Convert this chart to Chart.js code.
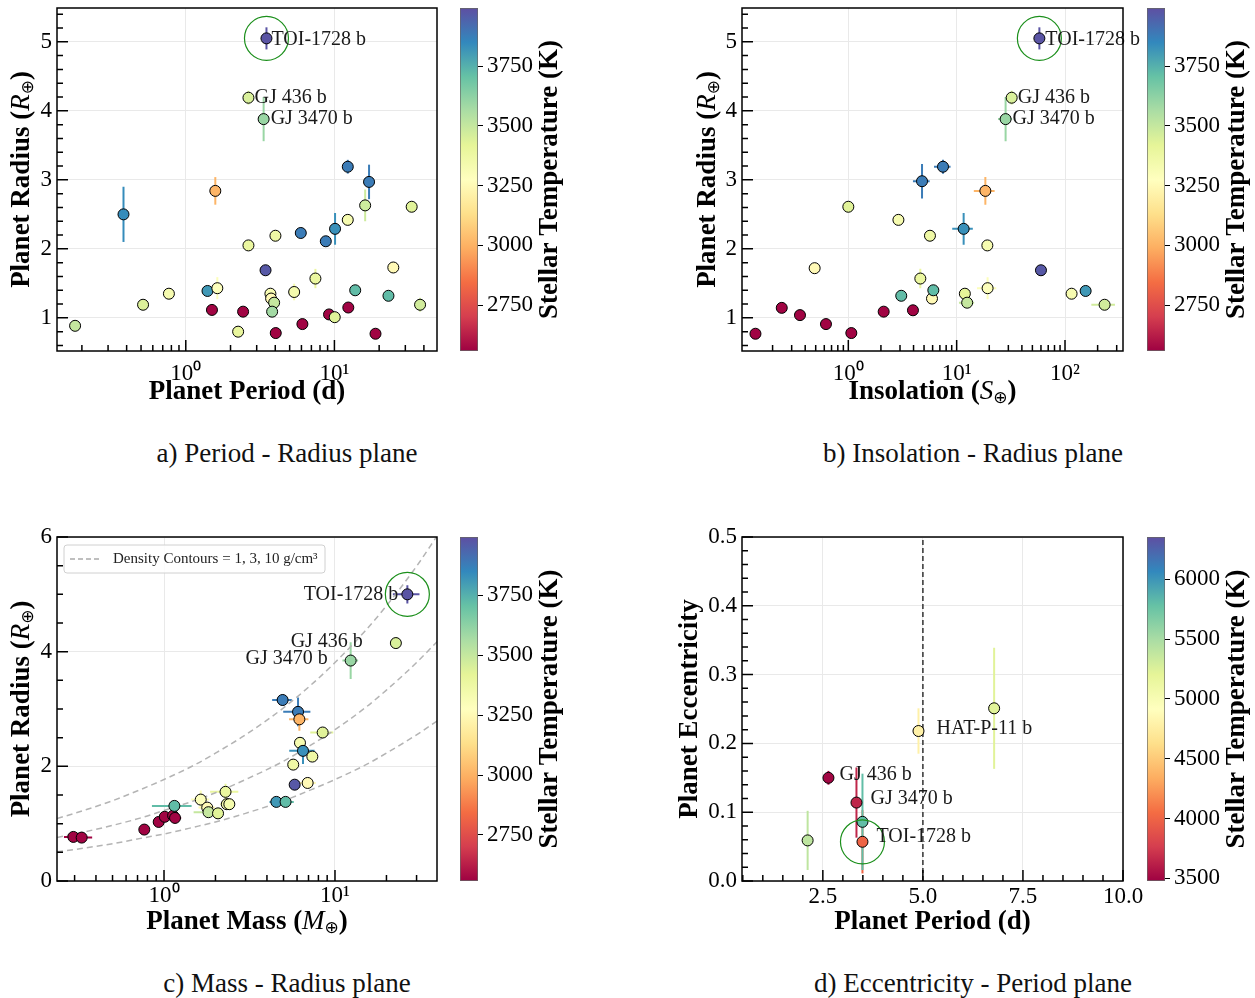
<!DOCTYPE html>
<html>
<head>
<meta charset="utf-8">
<script src="https://cdn.jsdelivr.net/npm/chart.js@4.4.1/dist/chart.umd.min.js"></script>
<style>
  body { margin: 0; background: #fff; width: 1255px; height: 998px; position: relative; overflow: hidden; }
  canvas { position: absolute; }
  .cap { position: absolute; font-family: "Liberation Serif", serif; font-size: 27px; text-align: center; line-height: 30px; color: #111; }
</style>
</head>
<body>
<canvas id="pa" width="445" height="420" style="left:0px;top:0px"></canvas>
<canvas id="ca" width="140" height="420" style="left:440px;top:0px"></canvas>
<canvas id="pb" width="508" height="420" style="left:640px;top:0px"></canvas>
<canvas id="cb" width="128" height="420" style="left:1127px;top:0px"></canvas>
<canvas id="pc" width="445" height="420" style="left:0px;top:520px"></canvas>
<canvas id="cc" width="140" height="420" style="left:440px;top:520px"></canvas>
<canvas id="pd" width="508" height="420" style="left:640px;top:520px"></canvas>
<canvas id="cd" width="128" height="420" style="left:1127px;top:520px"></canvas>
<div class="cap" style="left:0px;top:438px;width:574px">a) Period - Radius plane</div>
<div class="cap" style="left:700px;top:438px;width:546px">b) Insolation - Radius plane</div>
<div class="cap" style="left:0px;top:968px;width:574px">c) Mass - Radius plane</div>
<div class="cap" style="left:700px;top:968px;width:546px">d) Eccentricity - Period plane</div>
<script>
// ---- data (first entries of each panel are the labelled planets) ----
// a) period vs radius
const namesA = ['TOI-1728 b', 'GJ 436 b', 'GJ 3470 b'];
const periodA = [3.49, 2.64, 3.34, 0.18, 0.381, 0.516, 0.77, 1.40, 1.50, 1.58, 1.63, 2.25, 2.43, 2.64, 3.44, 3.71, 3.75, 3.93, 3.81, 4.01, 4.03, 5.94, 5.36, 6.09, 7.45, 8.75, 9.2, 10.05, 10.1, 12.3, 12.3, 12.4, 13.8, 16.1, 17.1, 18.9, 23.1, 24.9, 33.1, 37.7];
const radiusA = [5.05, 4.19, 3.88, 0.885, 2.50, 1.19, 1.35, 1.39, 1.115, 2.84, 1.43, 0.80, 1.09, 2.05, 1.69, 1.35, 1.28, 1.22, 1.09, 2.19, 0.78, 2.23, 1.375, 0.91, 1.57, 2.11, 1.05, 1.01, 2.29, 2.42, 3.19, 1.15, 1.40, 2.63, 2.97, 0.77, 1.32, 1.73, 2.61, 1.19];
const radErrA = [0.16, 0.10, 0.32, 0.03, 0.40, 0.03, 0.03, 0.06, 0.015, 0.20, 0.16, 0.03, 0.015, 0.03, 0.03, 0.06, 0.03, 0.03, 0.03, 0.03, 0.015, 0.03, 0.12, 0.015, 0.14, 0.03, 0.015, 0.03, 0.23, 0.06, 0.10, 0.015, 0.03, 0.23, 0.25, 0.015, 0.03, 0.03, 0.06, 0.10];
const teffA = [3980, 3450, 3600, 3500, 3840, 3440, 3330, 3810, 2566, 3010, 3290, 3400, 2566, 3390, 3970, 3320, 3250, 3500, 3580, 3370, 2566, 3880, 3340, 2566, 3390, 3880, 2566, 3430, 3830, 3330, 3880, 2566, 3720, 3480, 3880, 2566, 3720, 3250, 3430, 3470];

// b) insolation vs radius
const namesB = ['TOI-1728 b', 'GJ 436 b', 'GJ 3470 b'];
const insolB = [58, 32.2, 28.3, 0.139, 0.243, 0.358, 0.489, 0.622, 1.0, 1.066, 2.12, 2.9, 3.08, 3.95, 4.62, 4.79, 5.67, 5.92, 6.09, 7.48, 11.6, 11.9, 12.5, 18.4, 19.2, 19.3, 60, 115, 155, 232];
const insolErrB = [0, 2, 4.2, 0, 0, 0, 0, 0, 0, 0, 0, 0.1, 0, 0, 0.2, 0.84, 0.1, 0, 0, 1.3, 2.5, 0, 2, 4, 0, 3.9, 0, 0, 0, 57];
const radiusB = [5.05, 4.19, 3.88, 0.77, 1.145, 1.04, 1.72, 0.91, 2.61, 0.78, 1.09, 2.42, 1.32, 1.11, 1.57, 2.98, 2.19, 1.28, 1.40, 3.19, 2.29, 1.35, 1.22, 2.84, 2.05, 1.43, 1.69, 1.35, 1.39, 1.19];
const radErrB = [0.16, 0.10, 0.32, 0.015, 0.015, 0.015, 0.03, 0.015, 0.06, 0.015, 0.015, 0.06, 0.03, 0.015, 0.14, 0.25, 0.03, 0.03, 0.03, 0.10, 0.23, 0.03, 0.03, 0.20, 0.03, 0.16, 0.03, 0.03, 0.06, 0.03];
const teffB = [3980, 3450, 3600, 2566, 2566, 2566, 3250, 2566, 3430, 2566, 2566, 3330, 3720, 2566, 3390, 3880, 3370, 3250, 3720, 3880, 3830, 3420, 3500, 3010, 3330, 3290, 3970, 3330, 3810, 3470];

// c) mass vs radius
const namesC = ['TOI-1728 b', 'GJ 436 b', 'GJ 3470 b'];
const massC = [26.5, 22.7, 12.35, 0.295, 0.330, 0.767, 0.931, 1.01, 1.13, 1.16, 1.15, 1.64, 1.79, 1.82, 2.07, 2.29, 2.33, 2.41, 4.54, 5.14, 4.94, 5.81, 5.70, 6.08, 6.19, 6.24, 6.50, 6.92, 7.37, 8.47];
const massErrC = [4.7, 0.8, 1.3, 0.035, 0.05, 0.05, 0.05, 0.05, 0.1, 0.1, 0.3, 0.2, 0.2, 0.33, 0.1, 0.43, 0.2, 0.1, 0.4, 0.6, 0.65, 0.2, 0.2, 1.1, 0.8, 0.4, 1.1, 0.8, 0.3, 1.3];
const radiusC = [5.0, 4.15, 3.845, 0.769, 0.757, 0.897, 1.03, 1.12, 1.14, 1.10, 1.31, 1.42, 1.28, 1.20, 1.18, 1.555, 1.34, 1.34, 1.38, 1.38, 3.157, 1.68, 2.03, 2.95, 2.82, 2.41, 2.27, 1.71, 2.17, 2.59];
const radErrC = [0.16, 0.10, 0.32, 0.02, 0.02, 0.02, 0.02, 0.02, 0.02, 0.02, 0.03, 0.16, 0.03, 0.03, 0.03, 0.14, 0.03, 0.03, 0.06, 0.03, 0.10, 0.03, 0.03, 0.25, 0.20, 0.06, 0.23, 0.03, 0.03, 0.06];
const teffC = [3980, 3450, 3600, 2566, 2566, 2566, 2566, 2566, 2566, 2566, 3720, 3290, 3250, 3500, 3430, 3390, 3330, 3340, 3810, 3720, 3880, 3970, 3370, 3880, 3010, 3330, 3830, 3250, 3370, 3430];
// density contours (1, 3, 10 g/cm3)
const contourMass = [0.237, 0.3, 0.5, 0.75, 1, 1.5, 2, 3, 5, 7.5, 10, 15, 20, 30, 40];
const contourRho1 = [1.09, 1.18, 1.40, 1.61, 1.77, 2.02, 2.23, 2.55, 3.02, 3.46, 3.81, 4.36, 4.80, 5.49, 6.04];
const contourRho3 = [0.76, 0.82, 0.97, 1.11, 1.23, 1.40, 1.54, 1.77, 2.09, 2.40, 2.64, 3.02, 3.33, 3.81, 4.19];
const contourRho10 = [0.51, 0.55, 0.65, 0.75, 0.82, 0.94, 1.03, 1.18, 1.40, 1.61, 1.77, 2.02, 2.23, 2.55, 2.80];

// d) period vs eccentricity
const namesD = ['TOI-1728 b', 'GJ 436 b', 'GJ 3470 b', 'HAT-P-11 b'];
const periodD = [3.49, 2.64, 3.34, 4.89, 2.12, 3.49, 6.78];
const eccD = [0.057, 0.150, 0.114, 0.218, 0.059, 0.086, 0.251];
const eccErrD = [0.046, 0.010, 0.051, 0.033, 0.043, 0.070, 0.088];
const teffD = [4000, 3500, 3650, 4790, 5400, 5800, 5230];
const periodCut = [5];

// ticks and colour ranges
const radTicks = [1, 2, 3, 4, 5];
const massRadTicks = [0, 2, 4, 6];
const logTicks = [1, 10, 100];
const eccTicks = [0, 0.1, 0.2, 0.3, 0.4, 0.5];
const perTicksD = [2.5, 5, 7.5, 10];
const cbTicks = [2750, 3000, 3250, 3500, 3750];
const cbTicksD = [3500, 4000, 4500, 5000, 5500, 6000];
const teffRange = [2558, 3993];
const teffRangeD = [3477, 6355];

// ---- helpers ----
Chart.defaults.font.family = '"Liberation Serif", "Times New Roman", serif';
Chart.defaults.color = '#000';
const SERIF = '"Liberation Serif", serif';
const BOLD = '700 27px ' + SERIF;
const ITAL = 'italic 27px ' + SERIF;
const SUBF = '17px "DejaVu Sans", sans-serif';
const GRID = '#e9e9e9';

const SPECTRAL = ['#9e0142', '#d53e4f', '#f46d43', '#fdae61', '#fee08b', '#ffffbf', '#e6f598', '#abdda4', '#66c2a5', '#3288bd', '#5e4fa2'];
const SPEC_RGB = SPECTRAL.map(h => [1, 3, 5].map(i => parseInt(h.substr(i, 2), 16)));
function spectral(t) {
  t = Math.max(0, Math.min(1, t));
  const p = t * 10, i = Math.min(9, Math.floor(p)), f = p - i;
  const a = SPEC_RGB[i], b = SPEC_RGB[i + 1];
  return 'rgb(' + a.map((v, k) => Math.round(v + (b[k] - v) * f)).join(',') + ')';
}
const SUP = {'0': '\u2070', '1': '\u00b9', '2': '\u00b2', '-': '\u207b'};
const logFmt = v => '10' + String(Math.round(Math.log10(v))).split('').map(ch => SUP[ch]).join('');

function richText(ctx, parts, x, y, rot) {
  ctx.save();
  ctx.translate(x, y);
  if (rot) ctx.rotate(rot);
  let w = 0;
  parts.forEach(p => { ctx.font = p.f; p.w = ctx.measureText(p.t).width; w += p.w; });
  let cx = -w / 2;
  ctx.textBaseline = 'middle';
  ctx.textAlign = 'left';
  ctx.fillStyle = '#000';
  parts.forEach(p => { ctx.font = p.f; ctx.fillText(p.t, cx, p.dy || 0); cx += p.w; });
  ctx.restore();
}
const radiusTitle = [{t: 'Planet Radius (', f: BOLD}, {t: 'R', f: ITAL}, {t: '\u2295', f: SUBF, dy: 7}, {t: ')', f: BOLD}];

function minorVals(scale, step) {
  const out = [];
  if (scale.type === 'logarithmic') {
    for (let e = Math.floor(Math.log10(scale.min)); e <= Math.ceil(Math.log10(scale.max)); e++) {
      for (let k = 2; k <= 9; k++) {
        const v = k * Math.pow(10, e);
        if (v > scale.min && v < scale.max) out.push(v);
      }
    }
  } else {
    for (let v = Math.ceil(scale.min / step - 1e-9) * step; v <= scale.max + 1e-9; v += step) out.push(v);
  }
  return out;
}

function panel(c) {
  const b = c.box;
  const col = c.teff.map(T => spectral((T - c.range[0]) / (c.range[1] - c.range[0])));
  const pts = c.x.map((x, i) => ({x: x, y: c.y[i]}));
  const datasets = [
    {data: [pts[0]], pointRadius: 22, pointBackgroundColor: 'rgba(0,0,0,0)', pointBorderColor: '#1b8f1b', pointBorderWidth: 1.2},
    {data: pts, pointRadius: 5.5, pointBackgroundColor: col, pointBorderColor: '#000', pointBorderWidth: 1}
  ].concat(c.lines || []);

  const deco = {
    id: 'deco',
    beforeDatasetsDraw(ch) {
      const {ctx, chartArea: a} = ch;
      const sx = ch.scales.x, sy = ch.scales.y;
      ctx.save();
      ctx.beginPath();
      ctx.rect(a.left, a.top, a.right - a.left, a.bottom - a.top);
      ctx.clip();
      ctx.lineWidth = 2;
      c.x.forEach((x, i) => {
        const y = c.y[i];
        const px = sx.getPixelForValue(x), py = sy.getPixelForValue(y);
        ctx.strokeStyle = col[i];
        ctx.beginPath();
        if (c.ye && c.ye[i]) {
          ctx.moveTo(px, sy.getPixelForValue(y - c.ye[i]));
          ctx.lineTo(px, sy.getPixelForValue(y + c.ye[i]));
        }
        if (c.xe && c.xe[i]) {
          ctx.moveTo(sx.getPixelForValue(x - c.xe[i]), py);
          ctx.lineTo(sx.getPixelForValue(x + c.xe[i]), py);
        }
        ctx.stroke();
      });
      ctx.restore();
    },
    afterDatasetsDraw(ch) {
      const ctx = ch.ctx;
      ctx.save();
      ctx.font = '20px ' + SERIF;
      ctx.fillStyle = '#1a1a1a';
      ctx.textBaseline = 'middle';
      c.names.forEach((n, i) => {
        const o = c.nameOff[i];
        const px = ch.scales.x.getPixelForValue(c.x[i]), py = ch.scales.y.getPixelForValue(c.y[i]);
        ctx.textAlign = o[0] < 0 ? 'right' : 'left';
        ctx.fillText(n, px + o[0], py + o[1]);
      });
      ctx.restore();
    },
    afterDraw(ch) {
      const {ctx, chartArea: a} = ch;
      const sx = ch.scales.x, sy = ch.scales.y;
      ctx.save();
      ctx.strokeStyle = '#000';
      ctx.lineWidth = 1.5;
      ctx.strokeRect(a.left, a.top, a.right - a.left, a.bottom - a.top);
      ctx.beginPath();
      minorVals(sx, c.xMinor).forEach(v => { const p = sx.getPixelForValue(v); ctx.moveTo(p, a.bottom); ctx.lineTo(p, a.bottom - 6); });
      minorVals(sy, c.yMinor).forEach(v => { const p = sy.getPixelForValue(v); ctx.moveTo(a.left, p); ctx.lineTo(a.left + 6, p); });
      sx.ticks.forEach(t => { const p = sx.getPixelForValue(t.value); ctx.moveTo(p, a.bottom); ctx.lineTo(p, a.bottom - 11); });
      sy.ticks.forEach(t => { const p = sy.getPixelForValue(t.value); ctx.moveTo(a.left, p); ctx.lineTo(a.left + 11, p); });
      ctx.stroke();
      richText(ctx, c.xTitle, (a.left + a.right) / 2, a.bottom + 41, 0);
      richText(ctx, c.yTitle, a.left + c.yTitleDx, (a.top + a.bottom) / 2, -Math.PI / 2);
      if (c.legend) {
        const lx = a.left + 7, ly = a.top + 8;
        ctx.fillStyle = 'rgba(255,255,255,0.85)';
        ctx.strokeStyle = '#d0d0d0';
        ctx.lineWidth = 1;
        ctx.beginPath();
        ctx.roundRect(lx, ly, 261, 28, 3);
        ctx.fill();
        ctx.stroke();
        ctx.strokeStyle = '#aaaaaa';
        ctx.lineWidth = 1.5;
        ctx.setLineDash([5, 3]);
        ctx.beginPath();
        ctx.moveTo(lx + 6, ly + 14);
        ctx.lineTo(lx + 36, ly + 14);
        ctx.stroke();
        ctx.setLineDash([]);
        ctx.fillStyle = '#222';
        ctx.font = '15px ' + SERIF;
        ctx.textBaseline = 'middle';
        ctx.textAlign = 'left';
        ctx.fillText(c.legend, lx + 49, ly + 14);
      }
      ctx.restore();
    }
  };

  new Chart(document.getElementById(c.id), {
    type: 'scatter',
    data: {datasets: datasets},
    options: {
      responsive: false,
      animation: false,
      events: [],
      layout: {autoPadding: false, padding: {left: 0, top: b.T - b.y0, right: b.x0 + b.w - b.R, bottom: 0}},
      plugins: {legend: {display: false}, tooltip: {enabled: false}},
      scales: {
        x: {
          type: c.xType, min: c.xMin, max: c.xMax,
          afterBuildTicks: s => { s.ticks = c.xTicks.map(v => ({value: v})); },
          afterFit: s => { s.height = b.y0 + b.h - b.B; s.paddingLeft = 0; s.paddingRight = 0; },
          grid: {color: GRID, drawTicks: false},
          border: {display: false},
          ticks: {font: {size: 23}, padding: c.xPad, maxRotation: 0, autoSkip: false, callback: c.xFmt}
        },
        y: {
          type: 'linear', min: c.yMin, max: c.yMax,
          afterBuildTicks: s => { s.ticks = c.yTicks.map(v => ({value: v})); },
          afterFit: s => { s.width = b.L - b.x0; s.paddingTop = 0; s.paddingBottom = 0; },
          grid: {color: GRID, drawTicks: false},
          border: {display: false},
          ticks: {font: {size: 23}, padding: 5, autoSkip: false, callback: c.yFmt}
        }
      }
    },
    plugins: [deco]
  });
}

function colorbar(id, box, range, ticks) {
  const cbTitle = {
    id: 'cbtitle',
    afterDraw(ch) {
      richText(ch.ctx, [{t: 'Stellar Temperature (K)', f: BOLD}], 110, (ch.chartArea.top + ch.chartArea.bottom) / 2, -Math.PI / 2);
    }
  };
  new Chart(document.getElementById(id), {
    type: 'bar',
    data: {
      labels: [''],
      datasets: [{
        data: [[range[0], range[1]]],
        backgroundColor: ctx => {
          const a = ctx.chart.chartArea;
          if (!a) return SPECTRAL[5];
          const g = ctx.chart.ctx.createLinearGradient(0, a.bottom, 0, a.top);
          SPECTRAL.forEach((h, i) => g.addColorStop(i / 10, h));
          return g;
        },
        borderColor: '#666',
        borderWidth: 1,
        borderSkipped: false,
        barPercentage: 1,
        categoryPercentage: 1
      }]
    },
    options: {
      responsive: false,
      animation: false,
      events: [],
      layout: {autoPadding: false, padding: {left: box.L - box.x0, top: box.T - box.y0, right: 0, bottom: box.y0 + box.h - box.B}},
      plugins: {legend: {display: false}, tooltip: {enabled: false}},
      scales: {
        x: {display: false},
        y: {
          position: 'right', min: range[0], max: range[1],
          afterBuildTicks: s => { s.ticks = ticks.map(v => ({value: v})); },
          afterFit: s => { s.width = box.x0 + box.w - box.R; s.paddingTop = 0; s.paddingBottom = 0; },
          grid: {drawOnChartArea: false, drawTicks: true, tickLength: 5, tickColor: '#000', tickWidth: 1},
          border: {display: false},
          ticks: {font: {size: 23}, padding: 4, autoSkip: false, callback: v => String(v)}
        }
      }
    },
    plugins: [cbTitle]
  });
}

// ---- panels ----
panel({
  id: 'pa', box: {x0: 0, y0: 0, w: 445, h: 420, L: 57, T: 8, R: 437, B: 351},
  x: periodA, y: radiusA, ye: radErrA, teff: teffA, range: teffRange,
  names: namesA, nameOff: [[5, 1], [6, 0], [7, 0]],
  xType: 'logarithmic', xMin: 0.136, xMax: 49, xTicks: logTicks, xFmt: logFmt, xPad: 9,
  yMin: 0.52, yMax: 5.49, yTicks: radTicks, yMinor: 0.2, yFmt: v => String(v),
  xTitle: [{t: 'Planet Period (d)', f: BOLD}], yTitle: radiusTitle, yTitleDx: -35
});
colorbar('ca', {x0: 440, y0: 0, w: 140, h: 420, L: 460, T: 8, R: 478, B: 351}, teffRange, cbTicks);

panel({
  id: 'pb', box: {x0: 640, y0: 0, w: 508, h: 420, L: 742, T: 8, R: 1123, B: 351},
  x: insolB, xe: insolErrB, y: radiusB, ye: radErrB, teff: teffB, range: teffRange,
  names: namesB, nameOff: [[6, 1], [6, 0], [7, 0]],
  xType: 'logarithmic', xMin: 0.1044, xMax: 343, xTicks: logTicks, xFmt: logFmt, xPad: 9,
  yMin: 0.52, yMax: 5.49, yTicks: radTicks, yMinor: 0.2, yFmt: v => String(v),
  xTitle: [{t: 'Insolation (', f: BOLD}, {t: 'S', f: ITAL}, {t: '\u2295', f: SUBF, dy: 7}, {t: ')', f: BOLD}],
  yTitle: radiusTitle, yTitleDx: -34
});
colorbar('cb', {x0: 1127, y0: 0, w: 128, h: 420, L: 1147, T: 8, R: 1165, B: 351}, teffRange, cbTicks);

const contourStyle = {showLine: true, pointRadius: 0, borderColor: '#b4b4b4', borderWidth: 1.5, borderDash: [6, 4], cubicInterpolationMode: 'monotone', fill: false};
panel({
  id: 'pc', box: {x0: 0, y0: 520, w: 445, h: 420, L: 57, T: 537, R: 437, B: 881},
  x: massC, xe: massErrC, y: radiusC, ye: radErrC, teff: teffC, range: teffRange,
  names: namesC, nameOff: [[-9, 0], [-33, -1], [-23, -2]],
  xType: 'logarithmic', xMin: 0.2367, xMax: 39.5, xTicks: logTicks, xFmt: logFmt, xPad: 1,
  yMin: 0, yMax: 6, yTicks: massRadTicks, yMinor: 0.5, yFmt: v => String(v),
  lines: [contourRho1, contourRho3, contourRho10].map(r => Object.assign({data: contourMass.map((m, i) => ({x: m, y: r[i]}))}, contourStyle)),
  legend: 'Density Contours = 1, 3, 10 g/cm\u00b3',
  xTitle: [{t: 'Planet Mass (', f: BOLD}, {t: 'M', f: ITAL}, {t: '\u2295', f: SUBF, dy: 7}, {t: ')', f: BOLD}],
  yTitle: radiusTitle, yTitleDx: -35
});
colorbar('cc', {x0: 440, y0: 520, w: 140, h: 420, L: 460, T: 537, R: 478, B: 881}, teffRange, cbTicks);

panel({
  id: 'pd', box: {x0: 640, y0: 520, w: 508, h: 420, L: 742, T: 537, R: 1123, B: 881},
  x: periodD, y: eccD, ye: eccErrD, teff: teffD, range: teffRangeD,
  names: namesD, nameOff: [[14, -5], [11, -3], [14, -4], [18, -2]],
  xType: 'linear', xMin: 0.48, xMax: 10, xTicks: perTicksD, xMinor: 0.5, xFmt: v => v.toFixed(1), xPad: 2,
  yMin: 0, yMax: 0.5, yTicks: eccTicks, yMinor: 0.02, yFmt: v => v.toFixed(1),
  lines: [{data: [{x: periodCut[0], y: 0}, {x: periodCut[0], y: 0.5}], showLine: true, pointRadius: 0, borderColor: '#333', borderWidth: 1.5, borderDash: [5, 3]}],
  xTitle: [{t: 'Planet Period (d)', f: BOLD}],
  yTitle: [{t: 'Planet Eccentricity', f: BOLD}], yTitleDx: -52
});
colorbar('cd', {x0: 1127, y0: 520, w: 128, h: 420, L: 1147, T: 537, R: 1165, B: 881}, teffRangeD, cbTicksD);
</script>
</body>
</html>
